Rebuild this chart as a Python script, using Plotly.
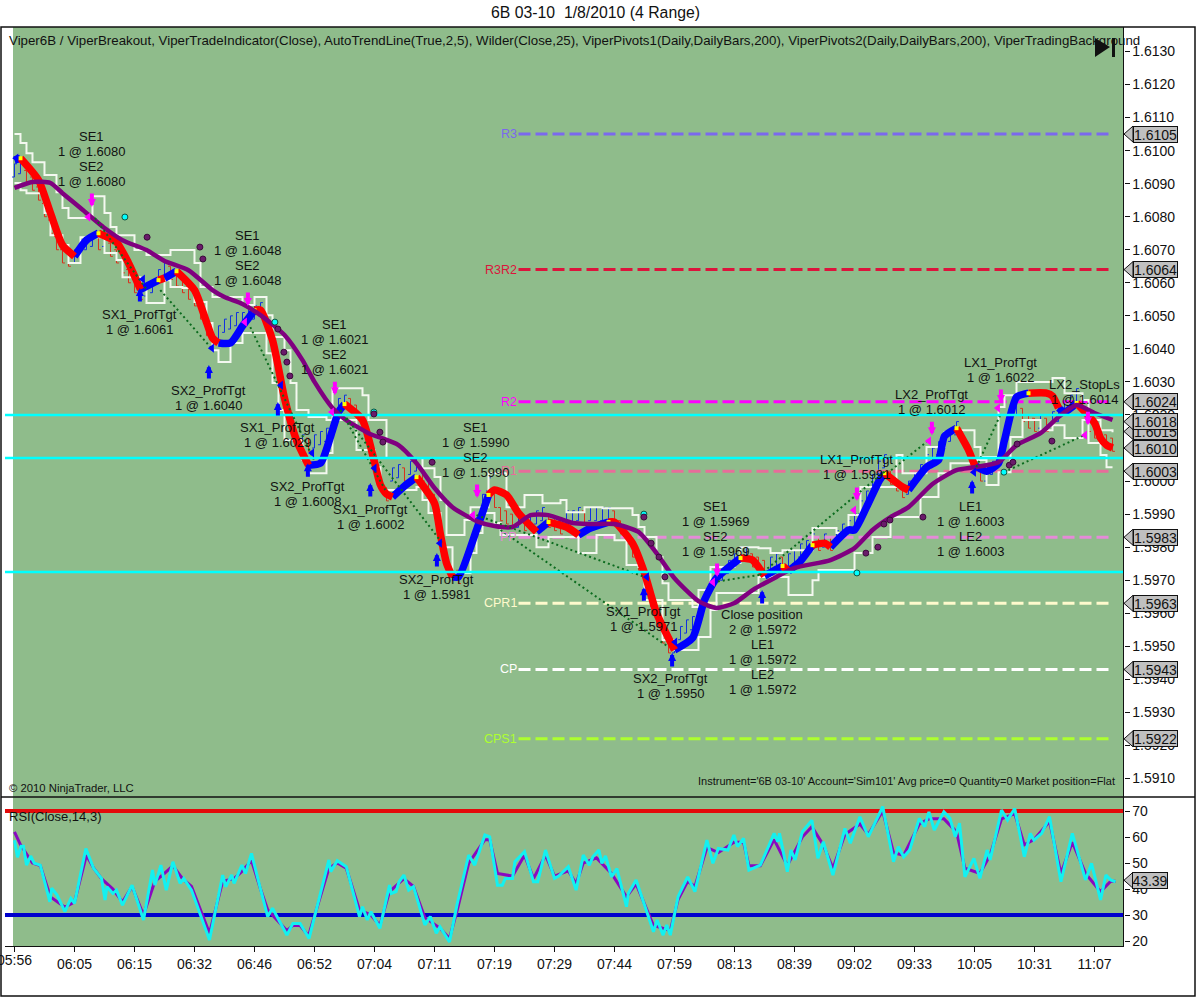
import plotly.graph_objects as go

W = 1196
H = 998

# chart values

title = "6B 03-10&nbsp; 1/8/2010 (4 Range)"
caption = ("Viper6B / ViperBreakout, ViperTradeIndicator(Close), AutoTrendLine(True,2,5), Wilder(Close,25), "
           "ViperPivots1(Daily,DailyBars,200), ViperPivots2(Daily,DailyBars,200), ViperTradingBackground")

time_labels = ["05:56", "06:05", "06:15", "06:32", "06:46", "06:52", "07:04", "07:11", "07:19", "07:29",
               "07:44", "07:59", "08:13", "08:39", "09:02", "09:33", "10:05", "10:31", "11:07"]
time_bars = [0, 10, 20, 30, 40, 50, 60, 70, 80, 90, 100, 110, 120, 130, 140, 150, 160, 170, 180]

pivot_names = ["R3", "R3R2", "R2", "R1", "PP", "CPR1", "CP", "CPS1"]
pivot_values = [1.6105, 1.6064, 1.6024, 1.6003, 1.5983, 1.5963, 1.5943, 1.5922]
pivot_colors = ["#7B68EE", "#DC143C", "#FF00FF", "#E86C9A", "#E58AD8", "#FFFACD", "#FFFFFF", "#ADFF2F"]
pivot_bars = [84, 183]

cyan_levels = [1.6020, 1.6007, 1.59725]

tag_values = [1.6105, 1.6064, 1.6024, 1.6015, 1.6018, 1.6010, 1.6003, 1.5983, 1.5963, 1.5943, 1.5922]

# range bars: low of every bar, in 0.0001 above 1.6000
bar_low = [92, 93, 90, 88, 85, 80, 75, 70, 66, 65,
           66, 69, 70, 71, 70, 71, 68, 66, 63, 60,
           57, 55, 56, 57, 60, 62, 61, 59, 57, 55,
           53, 49, 44, 42, 43, 45, 46, 47, 47, 48,
           49, 50, 46, 41, 33, 24, 17, 10, 10, 9,
           10, 11, 12, 16, 21, 22, 21, 19, 15, 9,
           3, -3, -6, 0, 1, 0, 2, 3, 0, -3,
           -8, -18, -27, -30, -31, -28, -22, -15, -8, -3,
           -8, -12, -13, -14, -14, -15, -14, -13, -12, -14,
           -15, -16, -13, -13, -12, -13, -12, -12, -12, -12,
           -13, -16, -19, -23, -27, -32, -38, -44, -49, -52,
           -52, -48, -46, -45, -43, -38, -34, -31, -30, -28,
           -26, -24, -24, -26, -27, -28, -27, -26, -27, -26,
           -25, -23, -22, -20, -21, -20, -21, -19, -17, -16,
           -14, -10, -7, -2, 2, 4, -1, -3, -5, -4,
           -1, 1, 4, 6, 8, 10, 12, 14, 11, 7,
           3, 0, 0, 2, 5, 12, 18, 20, 18, 16,
           15, 16, 15, 17, 18, 20, 22, 24, 20, 15,
           13, 12, 10, 9]
bar_range = 4

viper_bar = [0, 1, 4, 6, 8, 10, 12, 14, 17, 19, 21, 24, 25, 27, 30, 32, 33, 34, 36, 38, 40, 41, 43, 45, 47, 49,
             51, 53, 54, 55, 58, 60, 61, 62, 63, 65, 67, 70, 71, 72, 73, 74, 77, 79, 80, 82, 84, 87, 89, 92, 94,
             96, 99, 100, 103, 105, 107, 110, 113, 115, 117, 121, 123, 125, 128, 129, 131, 133, 135, 136, 139,
             140, 142, 144, 145, 148, 149, 152, 154, 155, 157, 159, 160, 162, 164, 165, 167, 169, 172, 173, 174,
             175, 177, 180, 181, 182, 183]
viper_price = [1.60971, 1.60977, 1.60911, 1.60811, 1.60714, 1.60680, 1.60729, 1.60750, 1.60723, 1.60660, 1.60580,
               1.60608, 1.60614, 1.60635, 1.60578, 1.60481, 1.60433, 1.60418, 1.60418, 1.60469, 1.60517, 1.60517,
               1.60427, 1.60251, 1.60124, 1.60048, 1.60054, 1.60154, 1.60209, 1.60233, 1.60185, 1.60057, 1.59988,
               1.59961, 1.59952, 1.59985, 1.60012, 1.59933, 1.59837, 1.59752, 1.59710, 1.59710, 1.59852, 1.59958,
               1.59973, 1.59958, 1.59903, 1.59846, 1.59876, 1.59861, 1.59837, 1.59858, 1.59876, 1.59876, 1.59812,
               1.59722, 1.59601, 1.59489, 1.59525, 1.59640, 1.59706, 1.59767, 1.59761, 1.59713, 1.59743, 1.59728,
               1.59758, 1.59806, 1.59812, 1.59800, 1.59852, 1.59852, 1.59921, 1.59997, 1.60024, 1.59982, 1.59973,
               1.60042, 1.60064, 1.60136, 1.60160, 1.60094, 1.60048, 1.60030, 1.60054, 1.60124, 1.60254, 1.60266,
               1.60266, 1.60257, 1.60221, 1.60209, 1.60236, 1.60176, 1.60130, 1.60109, 1.60100]
# bars where the line changes colour, it starts blue
viper_flips = [1, 10, 14, 21, 24, 25, 27, 34, 40, 49, 55, 63, 67, 73, 79, 87, 89, 94, 99, 110, 121, 125, 128, 129,
               133, 136, 145, 149, 157, 160, 169, 174, 177]

wilder_bar = [0, 3, 6, 8, 11, 15, 18, 22, 25, 29, 33, 35, 38, 41, 45, 48, 50, 53, 55, 59, 64, 67, 70, 73, 77, 80,
              83, 86, 89, 93, 96, 100, 104, 107, 110, 114, 117, 120, 123, 127, 130, 136, 140, 143, 146, 149, 153,
              157, 160, 164, 167, 171, 174, 177, 180, 183]
wilder_price = [1.60887, 1.60905, 1.60902, 1.60871, 1.60826, 1.60766, 1.60729, 1.60699, 1.60666, 1.60638, 1.60578,
                1.60557, 1.60536, 1.60502, 1.60442, 1.60366, 1.60300, 1.60221, 1.60188, 1.60145, 1.60109, 1.60054,
                1.59979, 1.59921, 1.59879, 1.59864, 1.59861, 1.59897, 1.59897, 1.59873, 1.59870, 1.59870, 1.59846,
                1.59782, 1.59706, 1.59637, 1.59616, 1.59631, 1.59670, 1.59710, 1.59737, 1.59761, 1.59797, 1.59852,
                1.59891, 1.59921, 1.59991, 1.60033, 1.60042, 1.60057, 1.60109, 1.60145, 1.60194, 1.60230, 1.60206,
                1.60185]

# white stair bands, in 0.0001 above 1.6000
upper_bar = [0, 1, 2, 3, 5, 7, 8, 9, 13, 15, 16, 17, 20, 22, 26, 30, 31, 33, 38, 40, 42, 43, 45, 46, 47, 49, 52, 53,
             58, 59, 62, 68, 70, 71, 72, 75, 76, 79, 82, 85, 88, 91, 92, 95, 98, 103, 104, 105, 107, 108, 109, 113,
             114, 116, 120, 121, 124, 126, 128, 133, 137, 139, 141, 147, 148, 152, 155, 157, 160, 161, 164, 165,
             167, 173, 175, 178, 179, 181, 183]
upper_ticks = [105.0, 102.3, 99.2, 96.5, 92.6, 87.4, 82.6, 79.6, 86.2, 81.1, 76.9, 74.4, 69.9, 68.4, 69.9, 66.0, 58.7,
               55.7, 53.3, 55.7, 50.2, 43.6, 39.6, 29.7, 21.5, 19.4, 18.5, 28.1, 26.0, 18.5, 7.0, 3.9, 1.2, -5.7,
               -16.3, -11.8, -7.9, 2.4, -7.9, -4.2, -6.7, -5.7, -9.4, -7.9, -8.2, -10.3, -13.9, -16.9, -23.0, -30.9,
               -36.0, -38.1, -33.0, -26.0, -24.8, -20.0, -20.3, -21.8, -20.9, -14.2, -15.7, -10.3, -1.8, 7.9, 2.4,
               10.3, 14.8, 15.4, 10.3, 7.3, 22.4, 26.0, 30.0, 31.2, 26.6, 24.5, 18.5, 15.4, 14.8]
lower_bar = [0, 1, 2, 5, 6, 8, 9, 11, 15, 17, 18, 21, 22, 25, 26, 28, 30, 32, 33, 34, 36, 38, 42, 43, 44, 45, 48, 49,
             52, 53, 57, 60, 61, 67, 68, 69, 71, 73, 76, 77, 78, 80, 81, 87, 89, 94, 97, 100, 102, 104, 105, 108,
             110, 114, 116, 117, 124, 129, 133, 134, 140, 143, 146, 151, 154, 156, 160, 162, 164, 166, 168, 171,
             173, 175, 178, 179, 181, 182, 183]
lower_ticks = [90.2, 88.0, 87.1, 81.1, 74.4, 71.4, 66.0, 73.8, 69.0, 66.9, 61.7, 58.7, 53.9, 60.8, 58.7, 58.4, 54.2,
               47.8, 39.6, 36.0, 41.8, 44.8, 38.7, 29.7, 21.5, 12.4, 6.4, 2.4, 8.5, 18.5, 9.4, 4.2, -2.7, -1.8, -5.7,
               -9.7, -20.0, -27.8, -21.8, -15.7, -9.7, -12.7, -16.3, -20.0, -16.9, -21.8, -16.3, -17.9, -25.4, -26.0,
               -36.0, -48.1, -51.1, -47.2, -39.0, -33.9, -29.0, -34.5, -30.0, -26.9, -21.8, -16.9, -10.9, -4.8, 2.4,
               5.4, 6.4, -1.2, 2.7, 13.3, 18.5, 15.4, 16.9, 13.0, 18.5, 11.5, 7.9, 4.2, 4.2]

# dots, in 0.0001 above 1.6000
purple_dot_bar = [22.1, 30.9, 31.4, 43.9, 44.9, 45.4, 45.9, 59.9, 60.9, 61.4, 69.6, 104.9, 106.1, 107.4, 108.4, 141.9,
                  143.9, 144.9, 145.9, 151.4, 165.8, 166.4, 167.1, 172.9]
purple_dot_ticks = [73.8, 70.8, 67.2, 46, 39, 36, 31.8, 20.3, 14.8, 11.8, 5.7, -10.9, -18.8, -23, -29, -21.8, -20, -13,
                    -11.8, -10.9, 4.8, 5.7, 11.2, 12.1]
cyan_dot_bar = [18.4, 43.4, 59.9, 104.9, 140.4, 164.9]
cyan_dot_ticks = [79.9, 48.1, 20.9, -10, -27.8, 2.7]

# trade arrows
buy_bar = [20.9, 32.4, 43.9, 48.9, 59.3, 70.4, 104.9, 109.6, 124.6, 159.6]
buy_ticks = [58.4, 35.1, 23.9, 5.4, -0.6, -21.8, -32.1, -52, -33, 0.3]
sell_bar = [12.9, 38.9, 53.4, 77.1, 117.1, 140.4, 152.9, 164.4, 178.9]
sell_ticks = [82.9, 53, 26, -5.1, -29, -6, 13.9, 23.6, 16.9]
sell_mark_bar = [12.3, 38.4, 52.9, 76.4, 116.4, 139.9, 152.4, 163.9, 178.4]
sell_mark_ticks = [79.9, 48.1, 20.9, -10.3, -30.6, -8.8, 12.1, 22.1, 13.9]
buy_mark_bar = [21.4, 32.9, 44.4, 49.6, 60, 70.9, 105.4, 110.1, 159.9, 0.3]
buy_mark_ticks = [61.1, 40.2, 29, 8.5, 3.9, -18.8, -29, -48.7, 2.7, 97.7]

# dotted connectors, None splits them
trend_bar = [13.4, 22.1, None, 24.3, 33.1, None, 39.3, 50.1, None, 54.3, 71.3, None, 54.3, 61.8, None, 77, 105, None,
             81, 109, None, 116.4, 124.2, None, 124.2, 145.3, None, 146.1, 152, None, 160.3, 164.3, None, 164.9, 178.3]
trend_ticks = [79.6, 57.8, None, 57.8, 39.6, None, 46.6, 5.7, None, 21.5, -18.8, None, 21.5, -2.7, None, -10.3, -29, None,
               -14.8, -50.2, None, -30.6, -28.4, None, -28.4, 3.3, None, 3.3, 11.8, None, 4.2, 20, None, 2.7, 13.9]

label_bar = [12.9, 20.9, 38.9, 32.4, 53.4, 43.9, 48.9, 59.4, 76.9, 70.4, 104.9, 109.4, 116.9, 124.6, 140.3, 152.8,
             164.3, 178.3, 159.3]
label_price = [1.61044, 1.60505, 1.60744, 1.60275, 1.60475, 1.60163, 1.59985, 1.59915, 1.60163, 1.59703, 1.59604,
               1.59404, 1.59924, 1.59595, 1.60064, 1.60263, 1.60360, 1.60293, 1.59924]
label_text = [
    ["SE1", "1 @ 1.6080", "SE2", "1 @ 1.6080"],
    ["SX1_ProfTgt", "1 @ 1.6061"],
    ["SE1", "1 @ 1.6048", "SE2", "1 @ 1.6048"],
    ["SX2_ProfTgt", "1 @ 1.6040"],
    ["SE1", "1 @ 1.6021", "SE2", "1 @ 1.6021"],
    ["SX1_ProfTgt", "1 @ 1.6029"],
    ["SX2_ProfTgt", "1 @ 1.6008"],
    ["SX1_ProfTgt", "1 @ 1.6002"],
    ["SE1", "1 @ 1.5990", "SE2", "1 @ 1.5990"],
    ["SX2_ProfTgt", "1 @ 1.5981"],
    ["SX1_ProfTgt", "1 @ 1.5971"],
    ["SX2_ProfTgt", "1 @ 1.5950"],
    ["SE1", "1 @ 1.5969", "SE2", "1 @ 1.5969"],
    ["Close position", "2 @ 1.5972", "LE1", "1 @ 1.5972", "LE2", "1 @ 1.5972"],
    ["LX1_ProfTgt", "1 @ 1.5991"],
    ["LX2_ProfTgt", "1 @ 1.6012"],
    ["LX1_ProfTgt", "1 @ 1.6022"],
    ["LX2_StopLs", "1 @ 1.6014"],
    ["LE1", "1 @ 1.6003", "LE2", "1 @ 1.6003"],
]

# RSI panel
rsi_bar = [0, .5, 1.1, 1.5, 2, 2.7, 3.3, 4.3, 5.9, 6.2, 7.1, 8.4, 9.4, 10, 11.9, 13.2, 14.5, 15.1, 15.4, 16.4, 17, 18,
           19.6, 21.5, 23, 23.4, 24.4, 25.3, 26.4, 27.6, 28.2, 29.5, 32.5, 34.7, 35.2, 36.2, 36.6, 37.9, 38.5, 39.5,
           40.9, 42.2, 43, 45.4, 46.4, 47.6, 49.1, 52.4, 52.7, 53.8, 55.3, 57.5, 58, 58.8, 59.4, 60.9, 62.5, 62.8,
           63.6, 64.1, 64.9, 65.7, 66.5, 68.4, 69.3, 70.3, 70.9, 72.5, 73.8, 75.7, 76.7, 78.4, 79.2, 80.5, 81.3, 81.8,
           83, 83.4, 85, 86.5, 87.2, 88.5, 90, 90.7, 92.3, 93.6, 94.8, 95.8, 96.4, 97.4, 97.9, 98.5, 99.5, 100.4, 102,
           102.3, 103.6, 106.5, 107.1, 108.1, 108.7, 109.3, 110.6, 112.2, 113.4, 115.4, 116.4, 117.3, 118.9, 119.9,
           120.5, 121.5, 122.4, 124.3, 126.6, 127.2, 127.5, 128.8, 129.4, 130.1, 131.3, 132.9, 133.9, 134.8, 136.4,
           138.4, 139.3, 140.9, 142.3, 144.7, 146.5, 147.3, 148.2, 149.2, 150.8, 151.7, 152.4, 153.3, 154.9, 155.9,
           156.8, 157.5, 158.4, 159.9, 160.9, 162.1, 162.6, 164.5, 165.5, 166.7, 168.3, 169.3, 169.9, 171.2, 172.5,
           174.4, 176.3, 178.5, 179.5, 181, 181.9, 182.7, 183.5]
rsi_value = [58.8, 52.2, 56.5, 56.5, 49.2, 52.7, 49.9, 49.2, 35.1, 40.3, 37.7, 31.3, 36.4, 34.5, 55.6, 47.9, 44.1, 35.8,
             40.9, 38.3, 39.6, 33.8, 41.5, 28.1, 47.3, 41.5, 49.2, 39.6, 50.5, 42.2, 44.1, 39.6, 20.4, 45.4, 40.9, 45.4,
             42.2, 49.2, 46, 53.7, 40.9, 29.4, 32.6, 22.3, 26.8, 26.8, 21, 51.2, 46.7, 50.9, 48.6, 29.4, 33.2, 28.1,
             31.3, 24.9, 41.5, 38.3, 39, 42.8, 45.4, 39.6, 40.9, 26.2, 29.4, 23, 25.5, 19.7, 34.5, 53.1, 49.2, 60.8,
             60.1, 41.5, 41.5, 44.1, 44.1, 50.5, 54.4, 42.8, 42.8, 55, 44.1, 45, 48.6, 39.6, 53.1, 49.2, 52.4, 55, 49.9,
             52.7, 44.7, 47.9, 33.2, 38.3, 43.5, 23.6, 28.1, 22.3, 26.2, 22.3, 37.1, 44.7, 39, 58.8, 49.9, 55.6, 55,
             60.8, 56.3, 59.5, 47.3, 49.2, 61.4, 58.2, 61.4, 46.7, 55, 51.2, 62.1, 66.5, 51.8, 58.2, 45.4, 63.3, 57.6,
             67.8, 60.1, 71.7, 50.5, 56.3, 52.4, 55, 67.2, 64, 69.7, 62.7, 69.7, 67.2, 60.1, 65.3, 44.7, 51.8, 44.1, 55,
             51.2, 70.4, 66.5, 71, 52.4, 61.4, 58.8, 61.4, 67.8, 42.8, 61.4, 43.5, 49.9, 35.8, 45.4, 43.5, 42.8]
rsi_avg_bar = [0, 1, 3, 4.3, 6, 8.4, 10, 12, 13.2, 14.5, 16.4, 18, 19.6, 21.5, 23.4, 25, 26.4, 28, 29.5, 32.5, 34.7,
               36.6, 38, 39.5, 41, 42.2, 45.4, 46.4, 47.6, 49, 52.4, 53.8, 55.3, 57.5, 59.4, 60.9, 62.5, 64.9, 66.5,
               68.4, 70.9, 72.5, 73.8, 75.7, 78.4, 79.2, 80.5, 83, 85, 86.5, 88.5, 90, 92.3, 93.6, 94.8, 97, 99.5,
               102, 103.6, 106.5, 108, 109.3, 110.6, 112.2, 113.4, 115.4, 117.3, 119.9, 121.5, 122.4, 124.3, 126.6,
               128.8, 131.3, 132.9, 134.8, 136.4, 138.4, 140.9, 142.3, 144.7, 146.5, 148.2, 150.8, 152.4, 154.9, 157,
               158.4, 160.9, 162.6, 164.5, 166.7, 168.3, 169.9, 172.5, 174.4, 176.3, 178.5, 181, 182.7, 183.5]
rsi_avg_value = [62, 57, 50, 49, 37, 33, 35, 53, 48, 44, 40, 35, 41, 30, 43, 46, 49, 44, 41, 23, 43, 44, 47, 51, 40,
                 32, 24, 26, 26, 22, 48, 50, 48, 32, 30, 26, 39, 44, 41, 29, 25, 21, 32, 50, 59, 59, 46, 45, 53, 44, 53,
                 45, 47, 42, 50, 52, 46, 37, 42, 26, 25, 24, 36, 43, 41, 56, 54, 58, 58, 49, 49, 59, 49, 60, 64, 57, 48,
                 61, 65, 61, 70, 54, 53, 65, 67, 67, 62, 48, 46, 53, 67, 69, 57, 59, 66, 46, 58, 46, 39, 43, 43]
rsi_high = 70
rsi_low = 30
rsi_tag = "43.39"

bar_min = -1.58
bar_max = 184.83


def px(x):
    return x / W


def py(y):
    return 1 - y / H


def price(ticks):
    return [None if t is None else 1.6 + t * 0.0001 for t in ticks]


green = "#8FBC8B"
sans = "Liberation Sans"

fig = go.Figure()


# pivots, with their labels further down
for name, val, col in zip(pivot_names, pivot_values, pivot_colors):
    fig.add_trace(go.Scatter(x=pivot_bars, y=[val, val], mode="lines",
                             line=dict(color=col, width=3, dash="12px,5px")))

# white stair bands
fig.add_trace(go.Scatter(x=upper_bar, y=price(upper_ticks), mode="lines",
                         line=dict(color="#F4F8F0", width=2, shape="hv")))
fig.add_trace(go.Scatter(x=lower_bar, y=price(lower_ticks), mode="lines",
                         line=dict(color="#F4F8F0", width=2, shape="hv")))

# range bars
bar_open = []
bar_close = []
for i, low in enumerate(bar_low):
    if i == 0 or low >= bar_low[i - 1]:
        bar_open.append(low)
        bar_close.append(low + bar_range)
    else:
        bar_open.append(low + bar_range)
        bar_close.append(low)

fig.add_trace(go.Ohlc(x=list(range(len(bar_low))),
                      open=price(bar_open),
                      high=price([b + bar_range for b in bar_low]),
                      low=price(bar_low),
                      close=price(bar_close),
                      tickwidth=0.4,
                      increasing=dict(line=dict(color="#1030E0", width=1)),
                      decreasing=dict(line=dict(color="#D8301C", width=1))))

# thick line, one trace per colour
red_x, red_y, blue_x, blue_y = [], [], [], []
edges = [viper_bar[0]] + viper_flips + [viper_bar[-1]]
for k in range(len(edges) - 1):
    seg_x = [b for b in viper_bar if edges[k] <= b <= edges[k + 1]]
    seg_y = [p for b, p in zip(viper_bar, viper_price) if edges[k] <= b <= edges[k + 1]]
    if k % 2 == 0:
        blue_x += seg_x + [None]
        blue_y += seg_y + [None]
    else:
        red_x += seg_x + [None]
        red_y += seg_y + [None]

fig.add_trace(go.Scatter(x=blue_x, y=blue_y, mode="lines",
                         line=dict(color="#0000FF", width=7.5, shape="spline", smoothing=0.6)))
fig.add_trace(go.Scatter(x=red_x, y=red_y, mode="lines",
                         line=dict(color="#FF0000", width=7.5, shape="spline", smoothing=0.6)))

# yellow where blue turns red
yellow_x = viper_flips[0::2]
yellow_y = [viper_price[viper_bar.index(b)] for b in yellow_x]
fig.add_trace(go.Scatter(x=yellow_x, y=yellow_y, mode="markers",
                         marker=dict(color="#FFFF00", size=4, symbol="square")))

fig.add_trace(go.Scatter(x=wilder_bar, y=wilder_price, mode="lines",
                         line=dict(color="#800080", width=4.5, shape="spline", smoothing=0.6)))

fig.add_trace(go.Scatter(x=trend_bar, y=price(trend_ticks), mode="lines",
                         line=dict(color="#0B6B1E", width=2, dash="2px,3px")))

# cyan levels go over the lines
for lev in cyan_levels:
    fig.add_trace(go.Scatter(x=[bar_min, bar_max], y=[lev, lev], mode="lines",
                             line=dict(color="#00FFFF", width=2.5)))

fig.add_trace(go.Scatter(x=cyan_dot_bar, y=price(cyan_dot_ticks), mode="markers",
                         marker=dict(color="#00FFFF", size=6, line=dict(color="#14503C", width=1))))
fig.add_trace(go.Scatter(x=purple_dot_bar, y=price(purple_dot_ticks), mode="markers",
                         marker=dict(color="#6A1B6A", size=6, line=dict(color="#3A0A3A", width=1))))

fig.add_trace(go.Scatter(x=sell_mark_bar, y=price(sell_mark_ticks), mode="markers",
                         marker=dict(color="#FF00FF", size=8, symbol="triangle-left")))
fig.add_trace(go.Scatter(x=buy_mark_bar, y=price(buy_mark_ticks), mode="markers",
                         marker=dict(color="#0000FF", size=8, symbol="triangle-left")))

# RSI panel
fig.add_trace(go.Scatter(x=[bar_min, bar_max], y=[rsi_high, rsi_high], mode="lines", xaxis="x2", yaxis="y2",
                         line=dict(color="#E30B0B", width=4)))
fig.add_trace(go.Scatter(x=[bar_min, bar_max], y=[rsi_low, rsi_low], mode="lines", xaxis="x2", yaxis="y2",
                         line=dict(color="#0000CD", width=4)))
fig.add_trace(go.Scatter(x=rsi_avg_bar, y=rsi_avg_value, mode="lines", xaxis="x2", yaxis="y2",
                         line=dict(color="#8A08C0", width=3)))
fig.add_trace(go.Scatter(x=rsi_bar, y=rsi_value, mode="lines", xaxis="x2", yaxis="y2",
                         line=dict(color="#14F0F0", width=3)))


# texts, anchors are spelled out because "auto" moves them near the paper edges
annotations = []


def page_text(x, y, text, size, anchor="left"):
    annotations.append(dict(xref="paper", yref="paper", x=px(x), y=py(y), xanchor=anchor, yanchor="middle",
                            text=text, showarrow=False, font=dict(size=size, color="#111111")))


page_text(595, 13, title, 15.8, "center")
page_text(7, 40, caption, 13.3)
page_text(7, 788, "© 2010 NinjaTrader, LLC", 11.3)
page_text(1117, 781, "Instrument='6B 03-10' Account='Sim101' Avg price=0 Quantity=0 Market position=Flat", 11, "right")
page_text(7, 816, "RSI(Close,14,3)", 13)

# the first time label sits half off the page, the axis would drop it
annotations.append(dict(xref="x2", yref="paper", x=time_bars[0], y=py(960), xanchor="center", yanchor="middle",
                        text=time_labels[0], showarrow=False, font=dict(size=14, color="#111111")))

for name, val, col in zip(pivot_names, pivot_values, pivot_colors):
    annotations.append(dict(x=pivot_bars[0], y=val, xref="x", yref="y", xanchor="right", yanchor="middle", text=name,
                            showarrow=False, font=dict(size=12.5, color=col)))

for b, p, lines in zip(label_bar, label_price, label_text):
    for n, line in enumerate(lines):
        annotations.append(dict(x=b, y=p, xref="x", yref="y", xanchor="center", yanchor="middle", text=line,
                                showarrow=False, yshift=-15 * n, font=dict(size=13, color="#111111")))

# arrows
for b, t in zip(buy_bar, buy_ticks):
    annotations.append(dict(x=b, y=1.6 + t * 0.0001, xref="x", yref="y", text="", showarrow=True,
                            ax=0, ay=15, arrowhead=2, arrowsize=0.4, arrowwidth=4, arrowcolor="#0000FF"))
for b, t in zip(sell_bar, sell_ticks):
    annotations.append(dict(x=b, y=1.6 + t * 0.0001, xref="x", yref="y", text="", showarrow=True,
                            ax=0, ay=-15, arrowhead=2, arrowsize=0.4, arrowwidth=4, arrowcolor="#FF00FF"))

# grey tags on the right, later ones on top
shapes = [
    dict(type="rect", xref="paper", yref="paper", x0=px(13), x1=px(1123.5), y0=py(946), y1=py(27),
         fillcolor=green, line=dict(width=0), layer="below"),
]
tag_grey = "#C0C0C0"
for val in tag_values:
    shapes.append(dict(type="path", xref="paper", yref="y", xsizemode="pixel", ysizemode="pixel",
                       xanchor=px(1133), yanchor=val, path="M -9 0 L 0 -8 L 0 8 Z",
                       fillcolor=tag_grey, line=dict(color="#111111", width=1)))
    annotations.append(dict(xref="paper", yref="y", x=px(1155), y=val, xanchor="center", yanchor="middle",
                            text="%.4f" % val, showarrow=False,
                            width=43, height=15, bgcolor=tag_grey, bordercolor="#111111", borderwidth=1, borderpad=0,
                            font=dict(size=14, color="#111111")))
rsi_tag_value = float(rsi_tag)
shapes.append(dict(type="path", xref="paper", yref="y2", xsizemode="pixel", ysizemode="pixel",
                   xanchor=px(1133), yanchor=rsi_tag_value, path="M -9 0 L 0 -8 L 0 8 Z",
                   fillcolor=tag_grey, line=dict(color="#111111", width=1)))
annotations.append(dict(xref="paper", yref="y2", x=px(1150), y=rsi_tag_value, xanchor="center", yanchor="middle",
                        text=rsi_tag, showarrow=False,
                        width=34, height=15, bgcolor=tag_grey, bordercolor="#111111", borderwidth=1, borderpad=0,
                        font=dict(size=14, color="#111111")))

# outer frame, panel divider and the play button
frame = dict(color="#111111", width=1.5)
shapes.append(dict(type="rect", xref="paper", yref="paper", x0=px(1), x1=px(1195), y0=py(996), y1=py(27), line=frame))
shapes.append(dict(type="line", xref="paper", yref="paper", x0=px(1), x1=px(1195), y0=py(797), y1=py(797), line=frame))
shapes.append(dict(type="line", xref="paper", yref="paper", x0=px(1123.5), x1=px(1123.5), y0=py(946), y1=py(27),
                   line=dict(color="#111111", width=1)))
shapes.append(dict(type="path", xref="paper", yref="paper",
                   path="M %f %f L %f %f L %f %f Z" % (px(1095), py(38), px(1110), py(47), px(1095), py(57)),
                   fillcolor="#111111", line=dict(width=0)))
shapes.append(dict(type="rect", xref="paper", yref="paper", x0=px(1112), x1=px(1115), y0=py(57), y1=py(38),
                   fillcolor="#111111", line=dict(width=0)))

axis_font = dict(size=14, color="#111111")

fig.update_layout(
    width=W,
    height=H + 3,
    margin=dict(l=0, r=0, t=0, b=0),
    autosize=False,
    showlegend=False,
    paper_bgcolor="white",
    plot_bgcolor="rgba(0,0,0,0)",
    font=dict(family=sans, color="#111111"),
    hovermode=False,
    annotations=annotations,
    shapes=shapes,
    xaxis=dict(domain=[px(5), px(1123.5)], range=[bar_min, bar_max], anchor="y", showgrid=False, zeroline=False,
               showticklabels=False, ticks="", rangeslider=dict(visible=False)),
    yaxis=dict(domain=[py(797), py(27)], range=[1.59044, 1.61374], anchor="x", side="right", showgrid=False,
               zeroline=False, dtick=0.001, tick0=1.6, tickformat=".4f", ticks="outside", ticklen=5, tickcolor="#111111",
               tickfont=axis_font),
    xaxis2=dict(domain=[px(5), px(1123.5)], range=[bar_min, bar_max], anchor="y2", showgrid=False, zeroline=False,
                tickvals=time_bars, ticktext=time_labels, ticks="outside", ticklen=5, tickcolor="#111111",
                showline=True, linecolor="#111111", linewidth=1, tickfont=axis_font),
    yaxis2=dict(domain=[py(946), py(797)], range=[18.1, 75.4], anchor="x2", side="right", showgrid=False,
                zeroline=False, dtick=10, tick0=20, ticks="outside", ticklen=5, tickcolor="#111111",
                tickfont=axis_font),
)

fig.write_html("out.html", config=dict(displayModeBar=False),
               post_script="document.body.style.margin='0';document.body.style.overflow='hidden';")
